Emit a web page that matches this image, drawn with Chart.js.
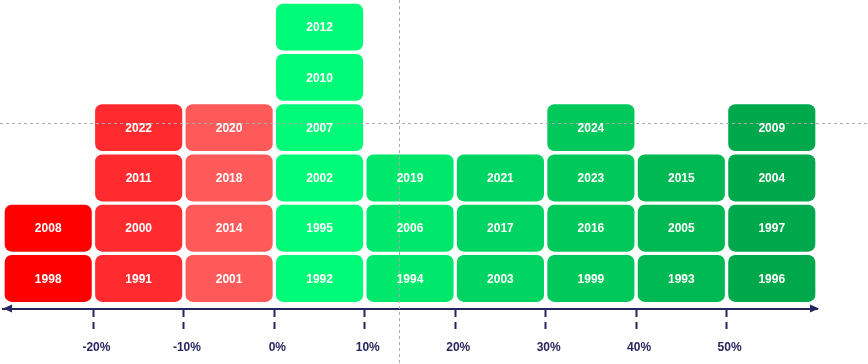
<!DOCTYPE html>
<html>
<head>
<meta charset="utf-8">
<script src="https://cdn.jsdelivr.net/npm/chart.js@4.4.1/dist/chart.umd.min.js"></script>
<style>
  html, body { margin: 0; padding: 0; background: #fff; }
  #wrap { width: 868px; height: 364px; }
</style>
</head>
<body>
<div id="wrap"><canvas id="histo"></canvas></div>
<script>
// return buckets, one column each
const buckets = ['< -20%', '-20% to -10%', '-10% to 0%', '0% to 10%', '10% to 20%', '20% to 30%', '30% to 40%', '40% to 50%', '> 50%'];

// years stacked in each bucket, bottom to top
const yearsBelowMinus20 = ['1998', '2008'];
const yearsMinus20to10 = ['1991', '2000', '2011', '2022'];
const yearsMinus10to0 = ['2001', '2014', '2018', '2020'];
const years0to10 = ['1992', '1995', '2002', '2007', '2010', '2012'];
const years10to20 = ['1994', '2006', '2019'];
const years20to30 = ['2003', '2017', '2021'];
const years30to40 = ['1999', '2016', '2023', '2024'];
const years40to50 = ['1993', '2005', '2015'];
const yearsAbove50 = ['1996', '1997', '2004', '2009'];

const bucketYears = [yearsBelowMinus20, yearsMinus20to10, yearsMinus10to0, years0to10,
  years10to20, years20to30, years30to40, years40to50, yearsAbove50];

const bucketColors = ['#ff0000', '#ff2b2f', '#ff5a5a', '#00fb78', '#00e86c', '#00d463', '#00c85a', '#00b953', '#00a84c'];

// tick labels on the return axis
const tickValues = [-20, -10, 0, 10, 20, 30, 40, 50];
const axisMin = -30, axisMax = 60;

// dotted guide lines (return %, stack height)
const guideX = 13.8;
const guideY = 3.6;

const navy = '#262660';

const maxRows = Math.max(...bucketYears.map(a => a.length));
const datasets = [];
for (let r = 0; r < maxRows; r++) {
  datasets.push({
    label: 'row ' + (r + 1),
    data: bucketYears.map(ys => ys.length > r ? 1 : null),
    years: bucketYears.map(ys => ys[r] || ''),
    backgroundColor: bucketColors,
    borderColor: '#ffffff',
    borderWidth: 2,
    borderSkipped: false,
    borderRadius: { topLeft: 9, topRight: 9, bottomLeft: 9, bottomRight: 9 },
    barPercentage: 1,
    categoryPercentage: 1,
    xAxisID: 'x',
    yAxisID: 'y'
  });
}

const yearLabels = {
  id: 'yearLabels',
  afterDatasetsDraw(chart) {
    const ctx = chart.ctx;
    const xs = chart.scales.x2, ys = chart.scales.y;
    // guides
    ctx.save();
    ctx.strokeStyle = '#aaaaaa';
    ctx.lineWidth = 1;
    ctx.setLineDash([3, 3]);
    const gx = Math.round(xs.getPixelForValue(guideX)) + 0.5;
    const gy = Math.round(ys.getPixelForValue(guideY)) + 0.5;
    ctx.beginPath();
    ctx.moveTo(gx, 0); ctx.lineTo(gx, chart.height);
    ctx.moveTo(0, gy); ctx.lineTo(chart.width, gy);
    ctx.stroke();
    ctx.restore();

    ctx.save();
    ctx.fillStyle = '#ffffff';
    ctx.font = 'bold 12px "Liberation Sans", Arial, sans-serif';
    ctx.textAlign = 'center';
    ctx.textBaseline = 'middle';
    chart.data.datasets.forEach((ds, i) => {
      const meta = chart.getDatasetMeta(i);
      meta.data.forEach((bar, j) => {
        if (ds.data[j] == null) return;
        ctx.fillText(ds.years[j], bar.x, (bar.y + bar.base) / 2 + 1);
      });
    });
    ctx.restore();

    // axis arrows
    const a = chart.chartArea;
    const y = a.bottom;
    ctx.save();
    ctx.fillStyle = navy;
    ctx.beginPath();
    ctx.moveTo(a.left, y); ctx.lineTo(a.left + 9, y - 4); ctx.lineTo(a.left + 9, y + 4); ctx.closePath();
    ctx.moveTo(a.right + 2, y); ctx.lineTo(a.right - 7, y - 4); ctx.lineTo(a.right - 7, y + 4); ctx.closePath();
    ctx.fill();
    ctx.restore();
  }
};

new Chart(document.getElementById('histo'), {
  type: 'bar',
  data: { labels: buckets, datasets: datasets },
  options: {
    responsive: true,
    maintainAspectRatio: false,
    animation: false,
    layout: { padding: { left: 3, right: 51, top: 2, bottom: 0 } },
    plugins: { legend: { display: false }, tooltip: { enabled: false } },
    scales: {
      x: { stacked: true, display: false },
      x2: {
        type: 'linear',
        position: 'bottom',
        min: axisMin,
        max: axisMax,
        offset: false,
        afterBuildTicks(scale) { scale.ticks = tickValues.map(v => ({ value: v })); },
        border: { display: true, color: navy, width: 2 },
        grid: {
          offset: false,
          drawOnChartArea: false,
          drawTicks: true,
          tickLength: 23,
          tickWidth: 2,
          tickColor: navy,
          tickBorderDash: [7, 5]
        },
        ticks: {
          padding: 9,
          labelOffset: 3,
          color: navy,
          font: { family: '"Liberation Sans", Arial, sans-serif', size: 12, weight: 'bold' },
          callback: v => v + '%'
        }
      },
      y: { stacked: true, display: false, min: -0.1, max: 6 }
    }
  },
  plugins: [yearLabels]
});
</script>
</body>
</html>
